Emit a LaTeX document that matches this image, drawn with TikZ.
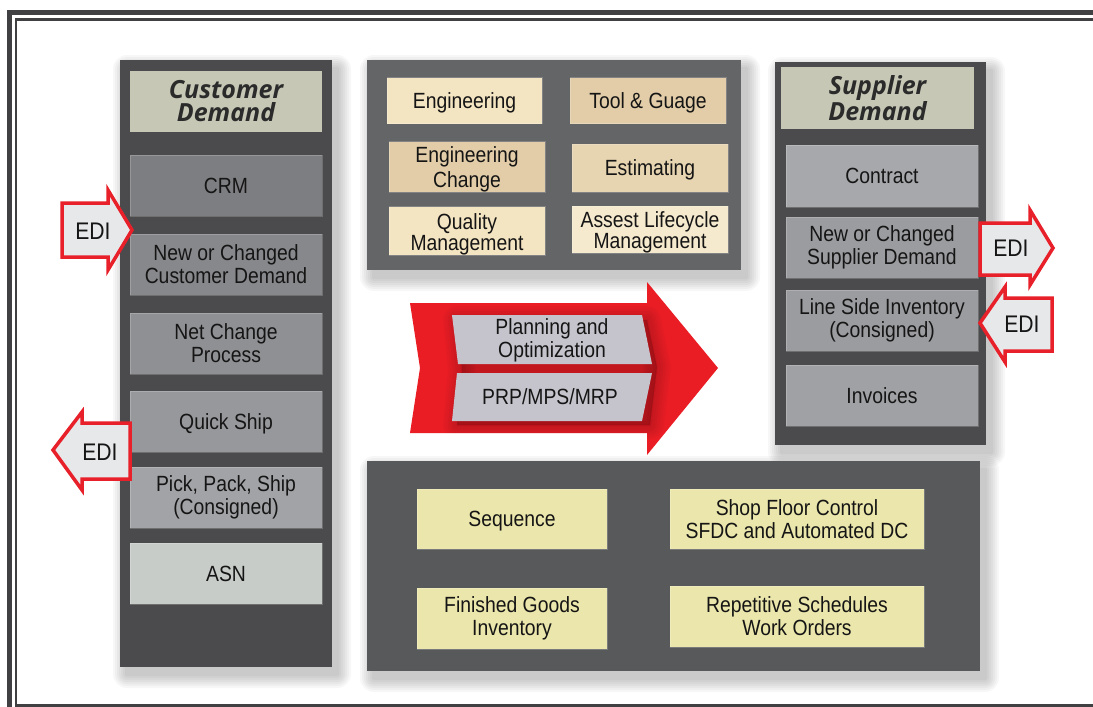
\documentclass[tikz,border=0pt]{standalone}
\usepackage{fontspec}
\setmainfont{Liberation Sans}[FakeStretch=0.88]
\newfontfamily\hdrfont{Open Sans}
\usetikzlibrary{calc}
\definecolor{framec}{HTML}{404042}
\definecolor{colpanel}{HTML}{4B4B4D}
\definecolor{toppanel}{HTML}{646567}
\definecolor{botpanel}{HTML}{58595B}
\definecolor{hdrc}{HTML}{C6C7B5}
\definecolor{hdrtxt}{HTML}{2B2B2B}
\definecolor{crmc}{HTML}{7D7E81}
\definecolor{newcc}{HTML}{87888B}
\definecolor{netc}{HTML}{8F9093}
\definecolor{quickc}{HTML}{97989B}
\definecolor{pickc}{HTML}{A2A3A6}
\definecolor{asnc}{HTML}{C7CCC8}
\definecolor{contractc}{HTML}{A7A8AB}
\definecolor{supc}{HTML}{9B9C9F}
\definecolor{invc}{HTML}{A0A1A4}
\definecolor{tanlight}{HTML}{F4E5C2}
\definecolor{tandark}{HTML}{E2CDA8}
\definecolor{yellowc}{HTML}{EBE6AB}
\definecolor{edifill}{HTML}{E7E8EA}
\definecolor{edired}{HTML}{E8202A}
\definecolor{bigred}{HTML}{EA1D25}
\definecolor{parac}{HTML}{C5C4CC}
\definecolor{txtc}{HTML}{151515}
\newcommand{\softshadow}[4]{%
  \foreach \k [evaluate=\k as \r using 2*\k] in {1,...,7}{%
    \fill[black,opacity=0.03,rounded corners=\r pt] (#1+7-2*\k,#2+9-2*\k) rectangle (#3+5+2*\k,#4+7+2*\k);}}
\tikzset{
  panel/.style={rectangle, inner sep=0pt, outer sep=0pt, draw=none},
  cell/.style={rectangle, inner sep=0pt, outer sep=0pt, align=center,
    draw=white, draw opacity=0.2, line width=0.6pt, text=txtc,
    font=\fontsize{22}{23}\selectfont},
  one/.style={text height=15.8pt, text depth=0pt},
  hdr/.style={rectangle, inner sep=0pt, outer sep=0pt, align=center,
    fill=hdrc, text=hdrtxt, font=\hdrfont\bfseries\itshape\fontsize{25}{23}\selectfont},
  edi/.style={draw=edired, fill=edifill, line width=3.5pt, line join=miter},
  editxt/.style={inner sep=0pt, text=txtc, text height=17pt, text depth=0pt, font=\fontsize{24}{24}\selectfont},
  para/.style={fill=parac, draw=none},
  paratxt/.style={inner sep=0pt, align=center, text=txtc, font=\fontsize{22}{23}\selectfont}
}
\begin{document}
\begin{tikzpicture}[x=1pt,y=-1pt]
\useasboundingbox (0,0) rectangle (1093,707);
\fill[white] (0,0) rectangle (1093,707);
\begin{scope}
  \clip (0,0) rectangle (1093,707);
  \draw[framec, line width=4.5pt] (9.5,12.5) rectangle (1200,720);
  \draw[framec, line width=2.2pt] (16,19.5) rectangle (1200,705.5);
\end{scope}

% shadows of panels
\softshadow{120}{60}{332}{667}
\softshadow{775}{62}{986}{445}
\softshadow{367}{60}{741}{270}
\softshadow{367}{461}{980}{671}

% ---------- left column
\node[panel, fill=colpanel, minimum width=212pt, minimum height=607pt] (lpanel) at (226,363.5) {};
\node[hdr, minimum width=192pt, minimum height=61pt] (custhdr) at (226,101.5) {Customer\\Demand};
\node[cell, one, fill=crmc, minimum width=192pt, minimum height=61pt] (crm) at (226,185.5) {CRM};
\node[cell, fill=newcc, minimum width=192pt, minimum height=61pt] (newc) at (226,264.5) {New or Changed\\Customer Demand};
\node[cell, fill=netc, minimum width=192pt, minimum height=61pt] (net) at (226,343.5) {Net Change\\Process};
\node[cell, one, fill=quickc, minimum width=192pt, minimum height=61pt] (quick) at (226,421.5) {Quick Ship};
\node[cell, fill=pickc, minimum width=192pt, minimum height=61pt] (pick) at (226,497.5) {Pick, Pack, Ship\\(Consigned)};
\node[cell, one, fill=asnc, minimum width=192pt, minimum height=61pt] (asn) at (226,573.5) {ASN};

% ---------- right column
\node[panel, fill=colpanel, minimum width=211pt, minimum height=383pt] (rpanel) at (880.5,253.5) {};
\node[hdr, minimum width=193pt, minimum height=62pt] (suphdr) at (877.5,98) {Supplier\\Demand};
\node[cell, one, fill=contractc, minimum width=192pt, minimum height=62pt] (contract) at (882,176) {Contract};
\node[cell, fill=supc, minimum width=192pt, minimum height=61pt] (newsup) at (882,247.5) {New or Changed\\Supplier Demand};
\node[cell, fill=supc, minimum width=192pt, minimum height=61pt] (line) at (882,320.5) {Line Side Inventory\\(Consigned)};
\node[cell, one, fill=invc, minimum width=192pt, minimum height=61pt] (inv) at (882,395.5) {Invoices};

% ---------- top centre panel
\node[panel, fill=toppanel, minimum width=374pt, minimum height=210pt] (tpanel) at (554,165) {};
\node[cell, one, fill=tanlight, minimum width=155pt, minimum height=46pt] (eng) at (464.5,100.5) {Engineering};
\node[cell, one, fill=tandark, minimum width=156pt, minimum height=46pt] (tool) at (648,100.5) {Tool \& Guage};
\node[cell, fill=tandark, minimum width=156pt, minimum height=48pt, font=\fontsize{22}{25}\selectfont] (engch) at (467,167) {\rule{0pt}{21pt}Engineering\\Change};
\node[cell, one, fill=tandark!70!tanlight, minimum width=156pt, minimum height=48pt] (est) at (650,168) {Estimating};
\node[cell, fill=tanlight, minimum width=156pt, minimum height=46pt, font=\fontsize{22}{21}\selectfont] (qual) at (467,231) {\rule{0pt}{23pt}Quality\\Management};
\node[cell, fill=tanlight!80!white, minimum width=156pt, minimum height=47pt, font=\fontsize{22}{21}\selectfont] (asset) at (650,229.5) {\rule{0pt}{21pt}Assest Lifecycle\\Management};

% ---------- centre arrow
\fill[bigred] (410,303) -- (647,303) -- (647,282) -- (718,368) -- (647,455) -- (647,433) -- (410,433) -- (420,368) -- cycle;
\begin{scope}
  \clip (410,303) -- (647,303) -- (647,282) -- (718,368) -- (647,455) -- (647,433) -- (410,433) -- (420,368) -- cycle;
  \foreach \w in {3,8,...,28}{
    \draw[black, opacity=0.028, line width=\w pt, line join=round, fill]
      (457,320) -- (647,320) -- (657,367) -- (650,425) -- (457,425) -- (462,370) -- cycle;}
\end{scope}
\fill[para] (452,315) -- (642,315) -- (652,364) -- (458,364) -- cycle;
\fill[para] (457,373) -- (652,373) -- (642,421) -- (452,421) -- cycle;
\node[paratxt] (plan) at (552,340) {Planning and\\Optimization};
\node[paratxt, text height=15.8pt, text depth=0pt] (prp) at (550,397) {PRP/MPS/MRP};

% ---------- bottom panel
\node[panel, fill=botpanel, minimum width=613pt, minimum height=210pt] (bpanel) at (673.5,566) {};
\node[cell, one, fill=yellowc, minimum width=190pt, minimum height=60pt] (seq) at (512,519) {Sequence};
\node[cell, fill=yellowc, minimum width=254pt, minimum height=60pt] (shop) at (797,519) {Shop Floor Control\\SFDC and Automated DC};
\node[cell, fill=yellowc, minimum width=190pt, minimum height=61pt] (fin) at (512,618.5) {Finished Goods\\Inventory};
\node[cell, fill=yellowc, minimum width=254pt, minimum height=61pt] (rep) at (797,616.5) {Repetitive Schedules\\Work Orders};

% ---------- EDI arrows
\draw[edi] (62,203) -- (108,203) -- (108,190) -- (132,230) -- (108,270) -- (108,257) -- (62,257) -- cycle;
\node[editxt] (edi1) at (93,231) {EDI};
\draw[edi] (130,423) -- (82,423) -- (82,412) -- (53,450) -- (82,490) -- (82,479) -- (130,479) -- cycle;
\node[editxt] (edi2) at (100,452) {EDI};
\draw[edi] (980,223) -- (1030,223) -- (1030,210) -- (1053,248) -- (1030,285) -- (1030,275) -- (980,275) -- cycle;
\node[editxt] (edi3) at (1011,248) {EDI};
\draw[edi] (1052,298) -- (1005,298) -- (1005,287) -- (980,323) -- (1005,362) -- (1005,351) -- (1052,351) -- cycle;
\node[editxt] (edi4) at (1022,324) {EDI};
\end{tikzpicture}
\end{document}
